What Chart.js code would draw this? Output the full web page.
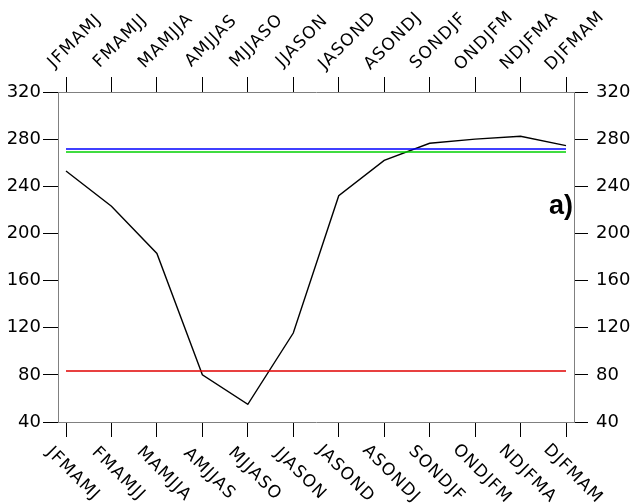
<!DOCTYPE html>
<html>
<head>
<meta charset="utf-8">
<script src="https://cdn.jsdelivr.net/npm/chart.js@4/dist/chart.umd.min.js"></script>
<style>
  html, body { margin: 0; padding: 0; background: #fff; }
  #wrap { width: 630px; height: 504px; }
</style>
</head>
<body>
<div id="wrap"><canvas id="c" width="630" height="504"></canvas></div>
<script>
// Running six-month seasons
const seasons = ['JFMAMJ', 'FMAMJJ', 'MAMJJA', 'AMJJAS', 'MJJASO', 'JJASON',
                 'JASOND', 'ASONDJ', 'SONDJF', 'ONDJFM', 'NDJFMA', 'DJFMAM'];

// Seasonal curve
const curveValues = [253, 223, 183, 80, 55, 115.5, 232, 262, 276.5, 280, 282.5, 274.5];

// Reference levels
const blueLevel = 271.6;
const greenLevel = 269.1;
const redLevel = 83.3;

// Y axis ticks
const yMin = 40, yMax = 320, yStep = 40;

const panelLabel = 'a)';

const toPoints = vals => vals.map((v, i) => ({ x: i, y: v }));
const flat = v => seasons.map(() => v);

const seasonLabels = {
  id: 'seasonLabels',
  afterDraw(chart) {
    const ctx = chart.ctx;
    const xs = chart.scales.xTop;
    const area = chart.chartArea;
    ctx.save();
    ctx.fillStyle = '#000';
    ctx.font = '17px "DejaVu Sans"';
    ctx.letterSpacing = '1.2px';
    ctx.textAlign = 'center';
    ctx.textBaseline = 'middle';
    seasons.forEach((s, i) => {
      const px = xs.getPixelForValue(i);
      ctx.save();
      ctx.translate(px + 9, area.top - 51);
      ctx.rotate(-Math.PI / 4);
      ctx.fillText(s, 0, 0);
      ctx.restore();
      ctx.save();
      ctx.translate(px + 7, area.bottom + 52);
      ctx.rotate(Math.PI / 4);
      ctx.fillText(s, 0, 0);
      ctx.restore();
    });
    // panel tag
    ctx.letterSpacing = '0px';
    ctx.font = 'bold 27px "Liberation Sans"';
    ctx.textAlign = 'right';
    ctx.textBaseline = 'alphabetic';
    ctx.fillText(panelLabel, area.right - 1, area.top + 122);
    ctx.restore();
  }
};

const seasonTicks = scale => { scale.ticks = seasons.map((_, i) => ({ value: i })); };

const xAxis = (position, height) => ({
  type: 'linear',
  position: position,
  min: -0.176,
  max: seasons.length - 1 + 0.176,
  afterBuildTicks: seasonTicks,
  afterFit: s => { s.height = height; },
  ticks: { display: false },
  grid: { drawOnChartArea: false, drawTicks: true, tickLength: 15, color: '#000', tickColor: '#000', lineWidth: 1 },
  border: { display: true, color: '#808080', width: 1 }
});

const yAxis = (position, width, tickLen, pad) => ({
  type: 'linear',
  position: position,
  min: yMin,
  max: yMax,
  afterFit: s => { s.width = width; },
  ticks: {
    stepSize: yStep,
    color: '#000',
    padding: pad,
    font: { family: 'DejaVu Sans', size: 18 }
  },
  grid: { drawOnChartArea: false, drawTicks: true, tickLength: tickLen, color: '#000', tickColor: '#000', lineWidth: 1 },
  border: { display: true, color: '#808080', width: 1 }
});

new Chart(document.getElementById('c'), {
  type: 'line',
  data: {
    datasets: [
      { data: toPoints(flat(redLevel)), borderColor: '#e00000', borderWidth: 1.5, xAxisID: 'xTop', yAxisID: 'yLeft' },
      { data: toPoints(flat(greenLevel)), borderColor: '#00d000', borderWidth: 1.5, xAxisID: 'xTop', yAxisID: 'yLeft' },
      { data: toPoints(flat(blueLevel)), borderColor: '#0000ff', borderWidth: 1.5, xAxisID: 'xTop', yAxisID: 'yLeft' },
      { data: toPoints(curveValues), borderColor: '#000', borderWidth: 1.4, xAxisID: 'xTop', yAxisID: 'yLeft' }
    ]
  },
  options: {
    responsive: false,
    animation: false,
    devicePixelRatio: 1,
    layout: { padding: 0 },
    elements: { point: { radius: 0 }, line: { tension: 0, fill: false } },
    plugins: { legend: { display: false }, tooltip: { enabled: false } },
    scales: {
      xTop: xAxis('top', 92),
      xBottom: xAxis('bottom', 82),
      yLeft: yAxis('left', 58, 15, 2),
      yRight: yAxis('right', 56, 14, 8)
    }
  },
  plugins: [seasonLabels]
});
</script>
</body>
</html>
